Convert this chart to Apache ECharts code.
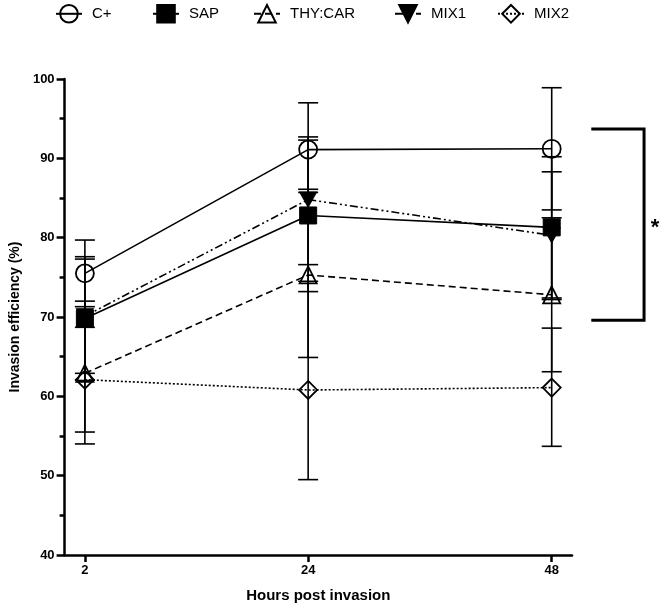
<!DOCTYPE html>
<html><head><meta charset="utf-8">
<script src="https://cdn.jsdelivr.net/npm/echarts@6/dist/echarts.min.js"></script>
<style>html,body{margin:0;padding:0;background:#fff}#c{width:664px;height:608px}</style>
</head><body><div id="c"></div>
<script>
// ---- data ----
const hours = [2, 24, 48];
const xTickValues = [2, 24, 48];
const seriesNames = ['C+', 'SAP', 'THY:CAR', 'MIX1', 'MIX2'];
const cPlus  = [75.5, 91.1, 91.2];
const sap    = [69.8, 82.8, 81.3];
const thyCar = [62.9, 75.3, 72.8];
const mix1   = [70.1, 84.8, 80.3];
const mix2   = [62.1, 60.8, 61.1];
const cPlusLow  = [71.3, 86.1, 83.5];
const cPlusHigh = [79.7, 97.0, 98.9];
const sapLow    = [62.0, 73.2, 72.2];
const sapHigh   = [77.6, 92.3, 90.2];
const thyCarLow  = [54.0, 64.9, 63.1];
const thyCarHigh = [72.0, 85.7, 82.5];
const mix1Low   = [62.9, 76.6, 72.4];
const mix1High  = [77.3, 92.7, 88.3];
const mix2Low   = [55.5, 49.5, 53.7];
const mix2High  = [68.7, 74.5, 68.6];
const sigLabel = '*';
const sigTop = 93.7, sigBottom = 69.6;

const FONT = 'Liberation Sans, Arial, Helvetica, sans-serif';
const chart = echarts.init(document.getElementById('c'));

function pts(vals) { return hours.map((h, i) => [h, vals[i]]); }
function errData(lo, hi) { return hours.map((h, i) => [h, lo[i], hi[i]]); }
function errRender(params, api) {
  const x = api.value(0), lo = api.value(1), hi = api.value(2);
  const a = api.coord([x, lo]), b = api.coord([x, hi]);
  const hw = 10;
  const style = { stroke: '#000', lineWidth: 1.6 };
  return { type: 'group', children: [
    { type: 'line', shape: { x1: a[0], y1: a[1], x2: b[0], y2: b[1] }, style },
    { type: 'line', shape: { x1: a[0] - hw, y1: a[1], x2: a[0] + hw, y2: a[1] }, style },
    { type: 'line', shape: { x1: b[0] - hw, y1: b[1], x2: b[0] + hw, y2: b[1] }, style }
  ]};
}
const hollow = { color: 'rgba(255,255,255,0)', borderColor: '#000', borderWidth: 1.8 };
const filled = { color: '#000', borderColor: '#000', borderWidth: 1 };
const downTri = 'path://M0,0 L10,0 L5,9 Z';

const lineDefs = [
  { name: seriesNames[0], data: cPlus,  symbol: 'circle',  size: 18, item: hollow, dash: 'solid' },
  { name: seriesNames[1], data: sap,    symbol: 'rect',    size: 17, item: filled, dash: 'solid' },
  { name: seriesNames[2], data: thyCar, symbol: 'triangle',size: 17, item: hollow, dash: [7, 4] },
  { name: seriesNames[3], data: mix1,   symbol: downTri,   size: [17, 15], item: filled, dash: [8, 3, 2, 3, 2, 3] },
  { name: seriesNames[4], data: mix2,   symbol: 'diamond', size: 18, item: hollow, dash: [2, 2] }
];
const errDefs = [[cPlusLow, cPlusHigh], [sapLow, sapHigh], [thyCarLow, thyCarHigh], [mix1Low, mix1High], [mix2Low, mix2High]];

const series = [];
errDefs.forEach((e, i) => series.push({
  type: 'custom', name: seriesNames[i] + ' SD', renderItem: errRender,
  data: errData(e[0], e[1]), z: 1, silent: true
}));
lineDefs.forEach(d => series.push({
  type: 'line', name: d.name, data: pts(d.data), symbol: d.symbol, symbolSize: d.size,
  showAllSymbol: true, z: 3, animation: false,
  lineStyle: { color: '#000', width: 1.6, type: d.dash },
  itemStyle: d.item
}));

const legendLefts = [55, 152, 253, 394, 497];
const legends = seriesNames.map((n, i) => ({
  data: [n], left: legendLefts[i], top: 4, padding: 0, itemWidth: 26, itemHeight: 22,
  selectedMode: false,
  textStyle: { fontFamily: FONT, fontSize: 15, color: '#000', padding: [0, 0, 0, 5] }
}));

chart.setOption({
  animation: false,
  legend: legends,
  grid: { left: 60, right: 92, top: 79, bottom: 53 },
  xAxis: {
    type: 'value', min: 0, max: 50,
    name: 'Hours post invasion', nameLocation: 'middle', nameGap: 33,
    nameTextStyle: { fontFamily: FONT, fontSize: 15, fontWeight: 'bold', color: '#000' },
    axisLine: { show: true, onZero: false, lineStyle: { color: '#000', width: 2.5 } },
    axisTick: { show: true, customValues: xTickValues, length: 7, lineStyle: { color: '#000', width: 2.5 } },
    axisLabel: { customValues: xTickValues, fontFamily: FONT, fontSize: 13, fontWeight: 'bold', color: '#000', margin: 9 },
    splitLine: { show: false }
  },
  yAxis: {
    type: 'value', min: 40, max: 100, interval: 10,
    name: 'Invasion efficiency (%)', nameLocation: 'middle', nameGap: 42,
    nameTextStyle: { fontFamily: FONT, fontSize: 14, fontWeight: 'bold', color: '#000' },
    axisLine: { show: true, lineStyle: { color: '#000', width: 2.5 } },
    axisTick: { show: true, length: 8, lineStyle: { color: '#000', width: 2.5 } },
    minorTick: { show: true, splitNumber: 2, length: 5, lineStyle: { color: '#000', width: 2.5 } },
    axisLabel: { fontFamily: FONT, fontSize: 13, fontWeight: 'bold', color: '#000', margin: 10 },
    splitLine: { show: false }
  },
  series: series
});

// significance bracket, positioned through the axis scales
const pTop = chart.convertToPixel({ gridIndex: 0 }, [51.9, sigTop]);
const pBot = chart.convertToPixel({ gridIndex: 0 }, [51.9, sigBottom]);
const xr = chart.convertToPixel({ gridIndex: 0 }, [57.1, sigTop])[0];
const bstyle = { stroke: '#000', lineWidth: 3, fill: null };
chart.setOption({
  graphic: [
    { type: 'polyline', shape: { points: [[pTop[0], pTop[1]], [xr, pTop[1]], [xr, pBot[1]], [pBot[0], pBot[1]]] }, style: bstyle },
    { type: 'text', x: xr + 11, y: (pTop[1] + pBot[1]) / 2 + 3, style: { text: sigLabel, font: 'bold 22px ' + FONT, fill: '#000', textAlign: 'center', textVerticalAlign: 'middle' } }
  ]
});
</script></body></html>
